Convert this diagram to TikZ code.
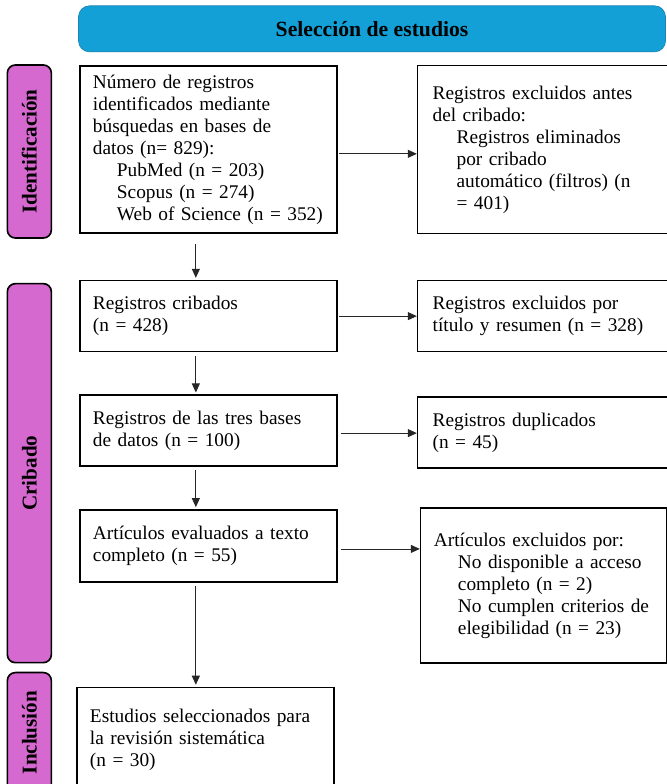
\documentclass[tikz,border=0pt]{standalone}
\usepackage{fontspec}
\setmainfont{Liberation Serif}
\usetikzlibrary{arrows.meta, positioning, calc}

\definecolor{headblue}{HTML}{13A0D6}
\definecolor{headline}{HTML}{1B86B6}
\definecolor{tabpink}{HTML}{D669CF}

% sangria de las sublineas
\newcommand{\subind}{\hspace*{0.72cm}}

\begin{document}
\begin{tikzpicture}[
  node distance=1.41cm and 2.37cm,
  every node/.style={font=\fontsize{16.5}{18.8}\selectfont},
  box/.style={draw, line width=1.4pt, align=left, inner xsep=0.39cm, inner ysep=0.1cm, text width=6.93cm, minimum height=2.13cm},
  exbox/.style={box, inner xsep=0.45cm, text width=6.6cm},
  head/.style={draw=headline, line width=0.6pt, fill=headblue, rounded corners=0.33cm, minimum width=17.61cm, minimum height=1.38cm, font=\fontsize{18.5}{20}\selectfont\bfseries},
  tab/.style={draw, line width=1.4pt, fill=tabpink, rounded corners=0.24cm, minimum width=1.32cm, inner sep=0pt, font=\fontsize{18}{20}\selectfont\bfseries},
  arrow/.style={-{Triangle[length=0.27cm, width=0.24cm]}, line width=0.7pt, black!85}
]
\useasboundingbox (-6.255,4.485) rectangle (13.755,-19.035);
\clip (-6.255,4.485) rectangle (13.755,-19.035);

% columna principal
\node[box, minimum height=5.01cm] (ident) {Número de registros\\identificados mediante\\búsquedas en bases de\\datos (n= 829):\\
  \subind PubMed (n = 203)\\\subind Scopus (n = 274)\\\subind Web of Science (n = 352)};
\node[box, below=1.38cm of ident] (cribados) {Registros cribados\\(n = 428)};
\node[box, below=1.26cm of cribados] (tres) {Registros de las tres bases\\de datos (n = 100)};
\node[box, below=1.26cm of tres, minimum height=2.16cm] (texto) {Artículos evaluados a texto\\completo (n = 55)};
\node[box, below=3.12cm of texto, xshift=-0.09cm, minimum height=3.12cm] (incl) {Estudios seleccionados para\\la revisión sistemática\\(n = 30)};

% exclusiones
\node[exbox, right=of ident, minimum height=5.04cm] (excl0) {Registros excluidos antes\\del cribado:\\
  \subind Registros eliminados\\\subind por cribado\\\subind automático (filtros) (n\\\subind = 401)};
\node[exbox, right=of cribados] (excl1) {Registros excluidos por\\título y resumen (n = 328)};
\node[exbox, right=of tres, yshift=-0.06cm] (dup) {Registros duplicados\\(n = 45)};
\node[exbox, right=2.46cm of texto.north east, anchor=north west, yshift=0.06cm, inner xsep=0.4cm, minimum height=4.65cm] (excl2) {Artículos excluidos por:\\
  \subind No disponible a acceso\\\subind completo (n = 2)\\\subind No cumplen criterios de\\\subind elegibilidad (n = 23)};

% cabecera y fases
\node[head, above=0.39cm of ident.north west, anchor=south west, xshift=-0.03cm] (head) {Selección de estudios};
\node[tab, left=0.81cm of ident.north west, anchor=north east, yshift=0.03cm, minimum height=5.19cm] (fase1) {\rotatebox{90}{Identificación}};
\node[tab, left=0.81cm of cribados.north west, anchor=north east, yshift=-0.09cm, minimum height=11.37cm] (fase2) {\rotatebox{90}{Cribado}};
\node[tab, left=0.72cm of incl.north west, anchor=north east, yshift=0.45cm, minimum height=3.6cm] (fase3) {\rotatebox{90}{Inclusión}};

% flechas
\draw[arrow, shorten <=0.3cm, shorten >=0.06cm] ([xshift=3.5cm]ident.south west) -- ([xshift=3.5cm]cribados.north west);
\draw[arrow, shorten <=0.1cm, shorten >=0.06cm] ([xshift=3.5cm]cribados.south west) -- ([xshift=3.5cm]tres.north west);
\draw[arrow, shorten <=0.1cm, shorten >=0.06cm] ([xshift=3.5cm]tres.south west) -- ([xshift=3.5cm]texto.north west);
\draw[arrow, shorten <=0.1cm, shorten >=0.06cm] ([xshift=3.5cm]texto.south west) -- ([xshift=3.5cm]texto.south west |- incl.north);
\draw[arrow, shorten <=0.04cm] ([yshift=-0.13cm]ident.east) -- ([yshift=-0.13cm]ident.east -| excl0.west);
\draw[arrow, shorten <=0.04cm] (cribados.east) -- (cribados.east -| excl1.west);
\draw[arrow, shorten <=0.1cm] ([yshift=-0.07cm]tres.east) -- ([yshift=-0.07cm]tres.east -| dup.west);
\draw[arrow, shorten <=0.1cm] ([yshift=-0.09cm]texto.east) -- ([yshift=-0.09cm]texto.east -| excl2.west);
\end{tikzpicture}
\end{document}
